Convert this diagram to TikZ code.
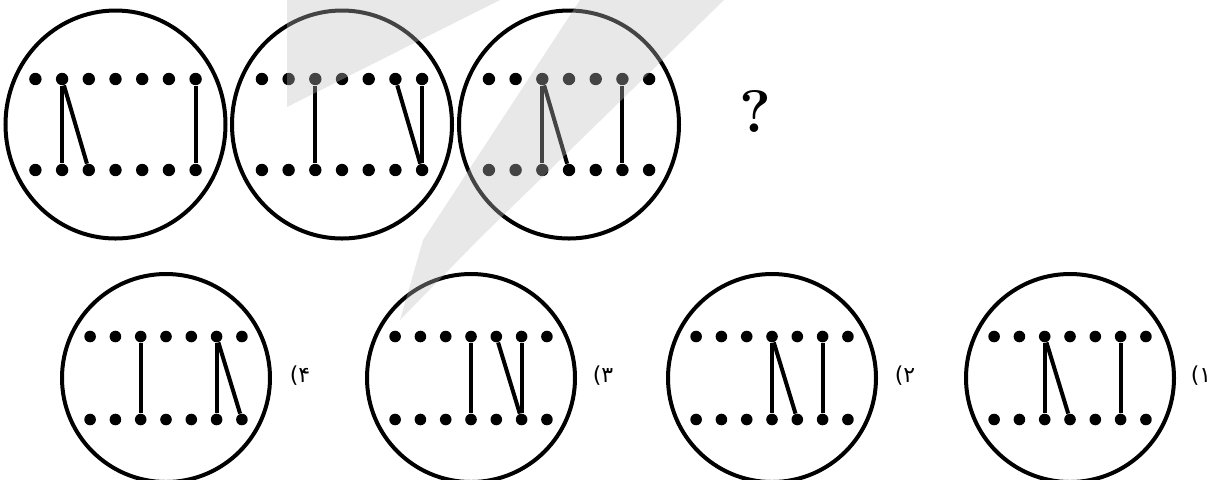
\documentclass[tikz,border=0pt]{standalone}
\usepackage{fontspec}
\newfontfamily\arabicfont[Script=Arabic]{DejaVu Sans}
\TeXXeTstate=1
\usetikzlibrary{shapes.geometric}

\newcommand{\ringpanel}[8]{%
  \node[ring, minimum width=#4, minimum height=#5] (#1) at (#2,#3) {};
  \foreach \k in {1,...,7}{
    \node[peg, minimum size=#8] (#1-t\k) at ({#2+(\k-4)*#6},{#3-#7}) {};
    \node[peg, minimum size=#8] (#1-b\k) at ({#2+(\k-4)*#6},{#3+#7}) {};
  }%
}

\begin{document}
\begin{tikzpicture}[
    x=0.5pt, y=-0.5pt,
    ring/.style={ellipse, draw, line width=2pt, inner sep=0pt},
    peg/.style={circle, fill, inner sep=0pt},
    link/.style={line width=2pt},
    tag/.style={font=\arabicfont\fontsize{11}{13}\selectfont, inner sep=0pt},
    wash/.style={fill=black!25, fill opacity=0.36},
]
\useasboundingbox (0,0) rectangle (1215,479);
\ringpanel{qa}{115.5}{124.5}{110pt}{114pt}{26.7}{45.5}{6.2pt}
\ringpanel{qb}{342}{124.5}{110pt}{114pt}{26.7}{45.5}{6.2pt}
\ringpanel{qc}{569}{124.5}{110pt}{114pt}{26.7}{45.5}{6.2pt}
\node[font=\fontsize{30}{32}\selectfont\bfseries] (ask) at (755,111) {?};
\ringpanel{o4}{166}{378}{104pt}{104pt}{25.3}{41.5}{5.8pt}
\ringpanel{o3}{471}{378}{104pt}{104pt}{25.3}{41.5}{5.8pt}
\ringpanel{o2}{772}{378}{104pt}{104pt}{25.3}{41.5}{5.8pt}
\ringpanel{o1}{1070}{378}{104pt}{104pt}{25.3}{41.5}{5.8pt}
\node[tag] (t4) at (300,376) {\beginR ۴)\endR};
\node[tag] (t3) at (603,376) {\beginR ۳)\endR};
\node[tag] (t2) at (905,376) {\beginR ۲)\endR};
\node[tag] (t1) at (1201,376) {\beginR ۱)\endR};
\draw[link] (qa-t2) -- (qa-b2);
\draw[link] (qa-t2) -- (qa-b3);
\draw[link] (qa-t7) -- (qa-b7);
\draw[link] (qb-t3) -- (qb-b3);
\draw[link] (qb-t6) -- (qb-b7);
\draw[link] (qb-t7) -- (qb-b7);
\draw[link] (qc-t3) -- (qc-b3);
\draw[link] (qc-t3) -- (qc-b4);
\draw[link] (qc-t6) -- (qc-b6);
\draw[link] (o4-t3) -- (o4-b3);
\draw[link] (o4-t6) -- (o4-b6);
\draw[link] (o4-t6) -- (o4-b7);
\draw[link] (o3-t4) -- (o3-b4);
\draw[link] (o3-t5) -- (o3-b6);
\draw[link] (o3-t6) -- (o3-b6);
\draw[link] (o2-t4) -- (o2-b4);
\draw[link] (o2-t4) -- (o2-b5);
\draw[link] (o2-t6) -- (o2-b6);
\draw[link] (o1-t3) -- (o1-b3);
\draw[link] (o1-t3) -- (o1-b4);
\draw[link] (o1-t6) -- (o1-b6);
\fill[wash] (287,0) -- (287,107) -- (500,0) -- cycle;
\fill[wash] (580,0) -- (724,0) -- (478,240) -- (400,320) -- (423,240) -- cycle;
\end{tikzpicture}
\end{document}
